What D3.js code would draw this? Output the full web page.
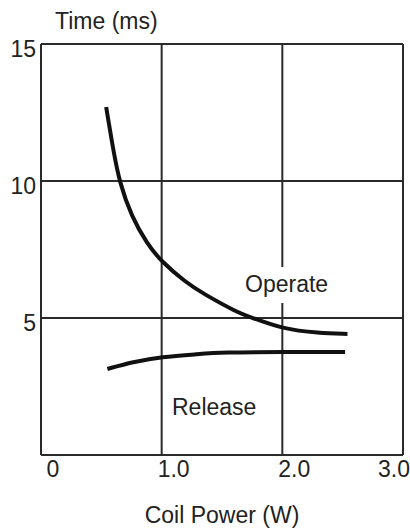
<!DOCTYPE html>
<html>
<head>
<script src="https://d3js.org/d3.v7.min.js"></script>
<style>
  body, html { margin: 0; padding: 0; background: #fff; }
  text { font-family: "Liberation Sans", Arial, sans-serif; font-size: 23px; fill: #222; }
  .grid { stroke: #2a2a2a; stroke-width: 2px; fill: none; }
  .curve { stroke: #111; stroke-width: 4px; fill: none; }
</style>
</head>
<body>
<div id="chart"></div>
<script>
  // values
  var xTicks = [0, 1, 2, 3];
  var xTickLabels = ["0", "1.0", "2.0", "3.0"];
  var yTicks = [5, 10, 15];
  var yTickLabels = ["5", "10", "15"];

  var operateX = [0.54, 0.6, 0.65, 0.75, 0.88, 1.0, 1.2, 1.34, 1.62, 1.73, 2.0, 2.3, 2.54];
  var operateY = [12.7, 11.1, 9.96, 8.7, 7.7, 7.05, 6.3, 5.9, 5.22, 5.04, 4.6, 4.45, 4.42];
  var releaseX = [0.55, 0.76, 1.0, 1.3, 1.5, 2.0, 2.52];
  var releaseY = [3.14, 3.4, 3.58, 3.68, 3.75, 3.76, 3.76];

  var width = 410, height = 529;
  var svg = d3.select("#chart").append("svg")
    .attr("width", width)
    .attr("height", height);

  var x = d3.scaleLinear().domain([0, 3]).range([41, 403]);
  var y = d3.scaleLinear().domain([0, 15]).range([455, 44]);

  // grid
  var g = svg.append("g");
  g.selectAll("line.v")
    .data(xTicks)
    .enter().append("line")
      .attr("class", "grid")
      .attr("x1", d => x(d)).attr("x2", d => x(d))
      .attr("y1", y(15)).attr("y2", y(0));
  g.selectAll("line.h")
    .data([0].concat(yTicks))
    .enter().append("line")
      .attr("class", "grid")
      .attr("x1", x(0)).attr("x2", x(3))
      .attr("y1", d => y(d)).attr("y2", d => y(d));

  // tick labels
  svg.append("g").selectAll("text")
    .data(xTicks)
    .enter().append("text")
      .attr("x", (d, i) => x(d) + (i === xTicks.length - 1 ? -9 : 12))
      .attr("y", 477)
      .attr("text-anchor", "middle")
      .text((d, i) => xTickLabels[i]);
  svg.append("g").selectAll("text")
    .data(yTicks)
    .enter().append("text")
      .attr("x", 36)
      .attr("y", d => y(d) + 13)
      .attr("text-anchor", "end")
      .text((d, i) => yTickLabels[i]);

  // axis titles
  svg.append("text").attr("x", 55).attr("y", 29).text("Time (ms)");
  svg.append("text").attr("x", 222).attr("y", 523).attr("text-anchor", "middle").text("Coil Power (W)");

  // curves
  var line = d3.line()
    .x(d => x(d[0]))
    .y(d => y(d[1]))
    .curve(d3.curveBasis);

  svg.append("path")
    .attr("class", "curve")
    .attr("d", line(d3.zip(operateX, operateY)));
  svg.append("path")
    .attr("class", "curve")
    .attr("d", line(d3.zip(releaseX, releaseY)));

  // curve labels
  var op = svg.append("g");
  var opText = op.append("text").attr("x", 245).attr("y", 292).text("Operate");
  var bb = opText.node().getBBox();
  op.insert("rect", "text")
    .attr("x", bb.x - 3).attr("y", bb.y - 4)
    .attr("width", bb.width + 6).attr("height", bb.height + 10)
    .attr("fill", "#fff");

  svg.append("text").attr("x", 172).attr("y", 415).text("Release");
</script>
</body>
</html>
